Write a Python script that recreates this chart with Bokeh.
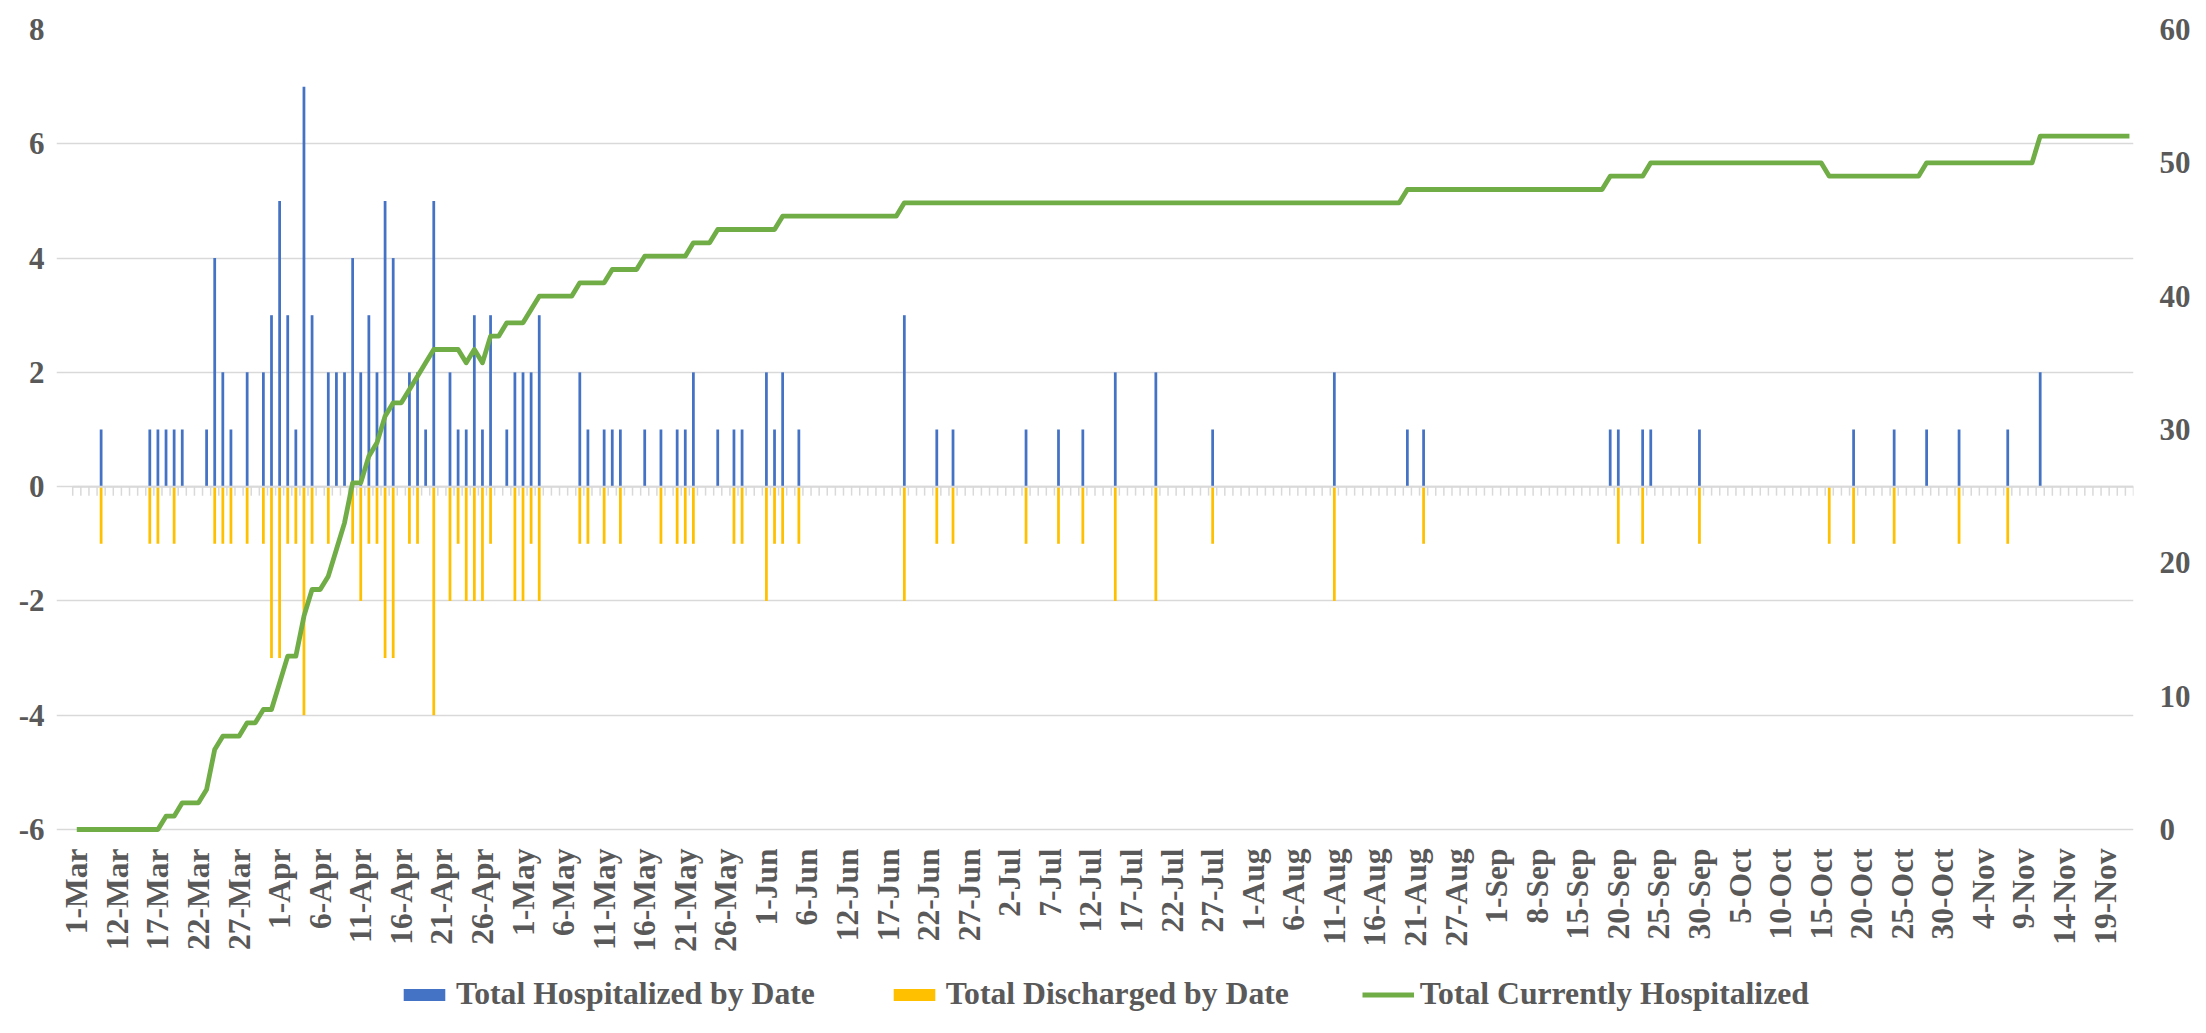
from bokeh.plotting import figure
from bokeh.models import (ColumnDataSource, Range1d, LinearAxis, FixedTicker,
                          Legend, LegendItem)
from bokeh.embed import file_html
from bokeh.resources import INLINE

# ---------------- data ----------------
tick_labels = ["1-Mar", "12-Mar", "17-Mar", "22-Mar", "27-Mar",
               "1-Apr", "6-Apr", "11-Apr", "16-Apr", "21-Apr", "26-Apr",
               "1-May", "6-May", "11-May", "16-May", "21-May", "26-May",
               "1-Jun", "6-Jun", "12-Jun", "17-Jun", "22-Jun", "27-Jun",
               "2-Jul", "7-Jul", "12-Jul", "17-Jul", "22-Jul", "27-Jul",
               "1-Aug", "6-Aug", "11-Aug", "16-Aug", "21-Aug", "27-Aug",
               "1-Sep", "8-Sep", "15-Sep", "20-Sep", "25-Sep", "30-Sep",
               "5-Oct", "10-Oct", "15-Oct", "20-Oct", "25-Oct", "30-Oct",
               "4-Nov", "9-Nov", "14-Nov", "19-Nov"]
label_every = 5

hospitalized = [
    0, 0, 0, 1, 0, 0, 0, 0, 0, 1,
    1, 1, 1, 1, 0, 0, 1, 4, 2, 1,
    0, 2, 0, 2, 3, 5, 3, 1, 7, 3,
    0, 2, 2, 2, 4, 2, 3, 2, 5, 4,
    0, 2, 2, 1, 5, 0, 2, 1, 1, 3,
    1, 3, 0, 1, 2, 2, 2, 3, 0, 0,
    0, 0, 2, 1, 0, 1, 1, 1, 0, 0,
    1, 0, 1, 0, 1, 1, 2, 0, 0, 1,
    0, 1, 1, 0, 0, 2, 1, 2, 0, 1,
    0, 0, 0, 0, 0, 0, 0, 0, 0, 0,
    0, 0, 3, 0, 0, 0, 1, 0, 1, 0,
    0, 0, 0, 0, 0, 0, 0, 1, 0, 0,
    0, 1, 0, 0, 1, 0, 0, 0, 2, 0,
    0, 0, 0, 2, 0, 0, 0, 0, 0, 0,
    1, 0, 0, 0, 0, 0, 0, 0, 0, 0,
    0, 0, 0, 0, 0, 2, 0, 0, 0, 0,
    0, 0, 0, 0, 1, 0, 1, 0, 0, 0,
    0, 0, 0, 0, 0, 0, 0, 0, 0, 0,
    0, 0, 0, 0, 0, 0, 0, 0, 0, 1,
    1, 0, 0, 1, 1, 0, 0, 0, 0, 0,
    1, 0, 0, 0, 0, 0, 0, 0, 0, 0,
    0, 0, 0, 0, 0, 0, 0, 0, 0, 1,
    0, 0, 0, 0, 1, 0, 0, 0, 1, 0,
    0, 0, 1, 0, 0, 0, 0, 0, 1, 0,
    0, 0, 2, 0, 0, 0, 0, 0, 0, 0,
    0, 0, 0, 0,
]

discharged = [
    0, 0, 0, -1, 0, 0, 0, 0, 0, -1,
    -1, 0, -1, 0, 0, 0, 0, -1, -1, -1,
    0, -1, 0, -1, -3, -3, -1, -1, -4, -1,
    0, -1, 0, 0, -1, -2, -1, -1, -3, -3,
    0, -1, -1, 0, -4, 0, -2, -1, -2, -2,
    -2, -1, 0, 0, -2, -2, -1, -2, 0, 0,
    0, 0, -1, -1, 0, -1, 0, -1, 0, 0,
    0, 0, -1, 0, -1, -1, -1, 0, 0, 0,
    0, -1, -1, 0, 0, -2, -1, -1, 0, -1,
    0, 0, 0, 0, 0, 0, 0, 0, 0, 0,
    0, 0, -2, 0, 0, 0, -1, 0, -1, 0,
    0, 0, 0, 0, 0, 0, 0, -1, 0, 0,
    0, -1, 0, 0, -1, 0, 0, 0, -2, 0,
    0, 0, 0, -2, 0, 0, 0, 0, 0, 0,
    -1, 0, 0, 0, 0, 0, 0, 0, 0, 0,
    0, 0, 0, 0, 0, -2, 0, 0, 0, 0,
    0, 0, 0, 0, 0, 0, -1, 0, 0, 0,
    0, 0, 0, 0, 0, 0, 0, 0, 0, 0,
    0, 0, 0, 0, 0, 0, 0, 0, 0, 0,
    -1, 0, 0, -1, 0, 0, 0, 0, 0, 0,
    -1, 0, 0, 0, 0, 0, 0, 0, 0, 0,
    0, 0, 0, 0, 0, 0, -1, 0, 0, -1,
    0, 0, 0, 0, -1, 0, 0, 0, 0, 0,
    0, 0, -1, 0, 0, 0, 0, 0, -1, 0,
    0, 0, 0, 0, 0, 0, 0, 0, 0, 0,
    0, 0, 0, 0,
]

currently_hospitalized = [
    0, 0, 0, 0, 0, 0, 0, 0, 0, 0,
    0, 1, 1, 2, 2, 2, 3, 6, 7, 7,
    7, 8, 8, 9, 9, 11, 13, 13, 16, 18,
    18, 19, 21, 23, 26, 26, 28, 29, 31, 32,
    32, 33, 34, 35, 36, 36, 36, 36, 35, 36,
    35, 37, 37, 38, 38, 38, 39, 40, 40, 40,
    40, 40, 41, 41, 41, 41, 42, 42, 42, 42,
    43, 43, 43, 43, 43, 43, 44, 44, 44, 45,
    45, 45, 45, 45, 45, 45, 45, 46, 46, 46,
    46, 46, 46, 46, 46, 46, 46, 46, 46, 46,
    46, 46, 47, 47, 47, 47, 47, 47, 47, 47,
    47, 47, 47, 47, 47, 47, 47, 47, 47, 47,
    47, 47, 47, 47, 47, 47, 47, 47, 47, 47,
    47, 47, 47, 47, 47, 47, 47, 47, 47, 47,
    47, 47, 47, 47, 47, 47, 47, 47, 47, 47,
    47, 47, 47, 47, 47, 47, 47, 47, 47, 47,
    47, 47, 47, 47, 48, 48, 48, 48, 48, 48,
    48, 48, 48, 48, 48, 48, 48, 48, 48, 48,
    48, 48, 48, 48, 48, 48, 48, 48, 48, 49,
    49, 49, 49, 49, 50, 50, 50, 50, 50, 50,
    50, 50, 50, 50, 50, 50, 50, 50, 50, 50,
    50, 50, 50, 50, 50, 50, 49, 49, 49, 49,
    49, 49, 49, 49, 49, 49, 49, 49, 50, 50,
    50, 50, 50, 50, 50, 50, 50, 50, 50, 50,
    50, 50, 52, 52, 52, 52, 52, 52, 52, 52,
    52, 52, 52, 52,
]

series_names = ["Total Hospitalized by Date", "Total Discharged by Date",
                "Total Currently Hospitalized"]
colors = ["#4472C4", "#FFC000", "#70AD47"]

left_ticks = [-6, -4, -2, 0, 2, 4, 6, 8]
right_ticks = [0, 10, 20, 30, 40, 50, 60]

# ---------------- geometry ----------------
n = len(hospitalized)
FIG_W, FIG_H = 2190, 1017
CAT_W = 8.114                     # px per category
PAD_CATS = 2                      # room on the left so the first label is not clipped
TOP = 29
PLOT_H = 800                      # pixel height of the -6..8 grid area
FRAME_W = round((n + PAD_CATS) * CAT_W)
LEFT = 56
RIGHT = FIG_W - LEFT - FRAME_W
FRAME_H = FIG_H - TOP             # frame runs to the bottom (labels + legend inside)
lo, hi = left_ticks[0], left_ticks[-1]
rlo, rhi = right_ticks[0], right_ticks[-1]
y_bottom = hi - (hi - lo) * FRAME_H / PLOT_H
r_bottom = rhi - (rhi - rlo) * FRAME_H / PLOT_H

x = list(range(n))
src = ColumnDataSource(dict(x=x, hosp=hospitalized, disch=discharged,
                            cur=currently_hospitalized, zero=[0] * n))

FONT = "Liberation Serif"
TXT = "#595959"
GRID = "#d9d9d9"
FS = "31px"

p = figure(frame_width=FRAME_W, frame_height=FRAME_H,
           x_range=Range1d(-0.5 - PAD_CATS, n - 0.5),
           y_range=Range1d(y_bottom, hi),
           output_backend="svg", toolbar_location=None,
           min_border_left=LEFT, min_border_right=RIGHT,
           min_border_top=TOP, min_border_bottom=0)
p.extra_y_ranges = {"right": Range1d(r_bottom, rhi)}
p.outline_line_color = None
p.background_fill_color = "white"
p.border_fill_color = "white"

# category tick marks below the zero line (between categories)
bounds = [i - 0.5 for i in range(n + 1)]
tick_len = 9 * (hi - lo) / PLOT_H
p.segment(x0=bounds, x1=bounds, y0=[0] * len(bounds),
          y1=[-tick_len] * len(bounds), line_color=GRID, line_width=1.5)

r_h = p.vbar(x="x", top="hosp", bottom=0, width=0.34, source=src,
             fill_color=colors[0], line_color=None)
r_d = p.vbar(x="x", top="zero", bottom="disch", width=0.34, source=src,
             fill_color=colors[1], line_color=None)

# zero axis line
p.segment(x0=[-0.5], x1=[n - 0.5], y0=[0], y1=[0], line_color=GRID,
          line_width=2)

r_c = p.line(x="x", y="cur", source=src, y_range_name="right",
             line_color=colors[2], line_width=4.8, line_join="round")

# grid
p.xgrid.grid_line_color = None
p.ygrid.grid_line_color = GRID
p.ygrid.grid_line_width = 1.5
p.ygrid.ticker = FixedTicker(ticks=left_ticks)
p.ygrid.bounds = (-0.5, n - 0.5)

# x axis, drawn at y = -6 inside the (extended) frame
xa = p.xaxis[0]
xa.fixed_location = lo
xa.ticker = FixedTicker(ticks=list(range(0, n, label_every))[:len(tick_labels)],
                        minor_ticks=[])
xa.major_label_overrides = {i * label_every: lab for i, lab in enumerate(tick_labels)}
xa.major_label_orientation = 3.14159265 / 2
xa.axis_line_color = None
xa.major_tick_line_color = None
xa.minor_tick_line_color = None
xa.major_tick_out = 0
xa.major_tick_in = 0
xa.major_label_standoff = 19
xa.major_label_text_font = FONT
xa.major_label_text_font_style = "bold"
xa.major_label_text_font_size = "31.5px"
xa.major_label_text_color = TXT

# left axis
ya = p.yaxis[0]
ya.ticker = FixedTicker(ticks=left_ticks, minor_ticks=[])
ya.major_label_overrides = {t: str(t) for t in left_ticks}
ya.axis_line_color = None
ya.major_tick_line_color = None
ya.minor_tick_line_color = None
ya.major_tick_out = 0
ya.major_tick_in = 0
ya.major_label_standoff = 12
ya.major_label_text_font = FONT
ya.major_label_text_font_style = "bold"
ya.major_label_text_font_size = FS
ya.major_label_text_color = TXT

# right axis
ra = LinearAxis(y_range_name="right",
                ticker=FixedTicker(ticks=right_ticks, minor_ticks=[]))
ra.axis_line_color = None
ra.major_tick_line_color = None
ra.minor_tick_line_color = None
ra.major_tick_out = 0
ra.major_tick_in = 0
ra.major_label_standoff = 26
ra.major_label_text_font = FONT
ra.major_label_text_font_style = "bold"
ra.major_label_text_font_size = FS
ra.major_label_text_color = TXT
p.add_layout(ra, "right")

# legend at the bottom of the frame
legend = Legend(items=[LegendItem(label=series_names[0], renderers=[r_h]),
                       LegendItem(label=series_names[1], renderers=[r_d]),
                       LegendItem(label=series_names[2], renderers=[r_c])],
                orientation="horizontal", location=(342, 5),
                glyph_width=52, glyph_height=15, label_standoff=6,
                spacing=73, padding=0, margin=0, label_height=36,
                border_line_color=None, background_fill_alpha=0)
legend.label_text_font = FONT
legend.label_text_font_style = "bold"
legend.label_text_font_size = "31.7px"
legend.label_text_color = TXT
p.add_layout(legend, "center")

open("out.html", "w").write(file_html(p, INLINE))
